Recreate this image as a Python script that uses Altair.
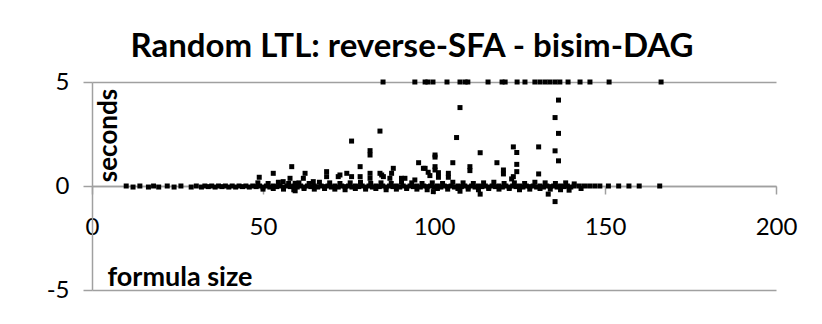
import altair as alt
import pandas as pd

# baseline runs (seconds close to 0)
base_size = [10, 12, 14, 16.5, 18, 19.5, 22, 24, 26, 29, 30.5, 32, 33, 34, 35, 36, 37, 38, 39, 40,
             41, 42, 43, 44, 45, 46, 47, 48, 49, 50, 51, 52, 53, 54, 55, 56, 57, 58, 59, 60,
             61, 62, 63, 64, 65, 66, 67, 68, 69, 70, 71, 72, 73, 74, 75, 76, 77, 78, 79, 80,
             81, 82, 83, 84, 85, 86, 87, 88, 89, 90, 91, 92, 93, 94, 95, 96, 97, 98, 99, 100,
             101, 102, 103, 104, 105, 106, 107, 108, 109, 110, 111, 112, 113, 114, 115, 116, 117, 118, 119, 120,
             121, 122, 123, 124, 125, 126, 127, 128, 129, 130, 131, 132, 133, 134, 135, 136, 137, 138, 139, 140,
             141, 142.5, 144, 145.5, 147, 148.5, 151, 154, 157, 160, 166]
base_sec = [0.0, -0.05, 0.0, -0.05, 0.0, -0.05, 0.0, -0.05, 0.0, -0.05, 0.0, -0.05, 0.0, -0.03, 0.0, -0.05, 0.0, -0.03, 0.0, -0.05,
            0.0, -0.05, 0.0, -0.03, 0.0, -0.05, 0.0, -0.03, 0.0, -0.05, 0.0, -0.05, 0.0, -0.03, 0.0, -0.05, 0.0, -0.03, 0.0, -0.05,
            0.0, -0.05, 0.0, -0.03, 0.0, -0.05, 0.0, -0.03, 0.0, -0.05, 0.0, -0.05, 0.0, -0.03, 0.0, -0.05, 0.0, -0.03, 0.0, -0.05,
            0.0, -0.05, 0.0, -0.03, 0.0, -0.05, 0.0, -0.03, 0.0, -0.05, 0.0, -0.05, 0.0, -0.03, 0.0, -0.05, 0.0, -0.03, 0.0, -0.05,
            0.0, -0.05, 0.0, -0.03, 0.0, -0.05, 0.0, -0.03, 0.0, -0.05, 0.0, -0.05, 0.0, -0.03, 0.0, -0.05, 0.0, -0.03, 0.0, -0.05,
            0.0, -0.05, 0.0, -0.03, 0.0, -0.05, 0.0, -0.03, 0.0, -0.05, 0.0, -0.05, 0.0, -0.03, 0.0, -0.05, 0.0, -0.03, 0.0, -0.05,
            0.0, 0.0, 0.0, 0.0, 0.0, 0.0, 0.0, 0.0, 0.0, 0.0, 0.0]

# thickening of the band (slightly above / below 0)
band_size = [48.5, 50, 51.5, 53, 54.5, 56, 57.5, 59, 60.5, 62, 63.5, 65, 66.5, 68, 69.5, 71, 72.5, 74, 75.5, 77,
             78.5, 80, 81.5, 83, 84.5, 86, 87.5, 89, 90.5, 92, 93.5, 95, 96.5, 98, 99.5, 101, 102.5, 104, 105.5, 107,
             108.5, 110, 111.5, 113, 114.5, 116, 117.5, 119, 120.5, 122, 123.5, 125, 126.5, 128, 129.5, 131, 132.5, 134, 135.5, 137,
             138.5, 139.5, 141, 143]
band_sec = [0.15, -0.15, 0.12, -0.12, 0.18, -0.15, 0.12, -0.18, 0.15, -0.12, 0.12, -0.15, 0.18, -0.12, 0.15, -0.15, 0.12, -0.18, 0.15, -0.12,
            0.18, -0.15, 0.12, -0.12, 0.15, -0.18, 0.12, -0.15, 0.18, -0.12, 0.15, -0.15, 0.12, -0.18, 0.15, -0.12, 0.12, -0.15, 0.18, -0.12,
            0.15, -0.15, 0.12, -0.18, 0.15, -0.12, 0.18, -0.15, 0.12, -0.12, 0.15, -0.18, 0.12, -0.15, 0.18, -0.12, 0.15, -0.15, 0.12, -0.18,
            0.15, -0.2, 0.1, -0.12]

# scattered slower cases
scat_size = [48.9, 53.0, 55.9, 57.9, 58.4, 59.4, 59.4, 61.8, 62.3, 64.7, 68.6, 68.6, 72.0, 72.5, 74.5, 75.9, 75.9, 78.4, 78.4,
             81.3, 81.3, 81.3, 81.3, 84.2, 84.2, 84.7, 85.2, 87.1, 87.6, 88.1, 90.5, 91.5, 94.4, 95.5, 96.9, 97.4, 98.3,
             98.8, 99.8, 100.3, 100.3, 100.3, 100.3, 101.3, 101.3, 104.2, 104.2, 105.5, 106.6, 107.6, 107.6, 110.5, 110.5,
             113.5, 113.5, 118.4, 120.3, 120.3, 122.7, 123.2, 123.2, 124.2, 124.2, 124.2, 130.6, 130.6, 133.4, 135.4, 135.4,
             135.4, 136.4, 136.4, 136.4]
scat_sec = [0.42, 0.61, 0.21, 0.37, 0.93, 0.13, -0.23, 0.37, 0.61, 0.21, 0.69, 0.45, 0.45, 0.53, 0.61, 2.16, 0.45, 0.93, 0.45,
            1.70, 1.49, 0.61, 0.37, 2.64, 0.61, 0.53, 0.45, 0.37, 0.61, 0.85, 0.37, 0.37, 0.29, 1.12, 0.85, 0.85, 0.66,
            0.50, -0.27, 1.49, 1.39, 0.93, 0.77, 0.64, 0.42, 0.61, 0.42, 1.12, 2.33, 3.77, -0.25, 0.93, 0.74,
            1.60, -0.39, 1.12, 0.77, 0.58, 0.34, 1.88, 0.45, 1.61, 1.04, 0.69, 1.88, 0.58, -0.39, 3.29, 1.69,
            -0.75, 4.13, 2.53, 1.21]

# timeouts (capped at 5 s)
to_size = [85.1, 94.4, 97.4, 98.2, 99.7, 103.8, 107.6, 109.1, 109.9, 115.8, 119.9, 120.8, 124.3, 126.6, 129.5,
           131.0, 132.5, 133.9, 135.4, 136.8, 139.2, 142.7, 145.6, 151.2, 166.4]
to_sec = [5] * len(to_size)

df = pd.DataFrame({
    "size": base_size + band_size + scat_size + to_size,
    "sec": base_sec + band_sec + scat_sec + to_sec,
})

GRAY = "#a0a0a0"
FONT = "Lato"

chart = alt.Chart(df).mark_square(size=25, color="black", opacity=1, clip=False).encode(
    x=alt.X("size:Q",
            scale=alt.Scale(domain=[0, 200], nice=False, zero=False),
            axis=alt.Axis(values=[0, 50, 100, 150, 200], grid=False, offset=-104,
                          domainColor=GRAY, domainWidth=1.5, tickColor=GRAY, tickWidth=1.5,
                          tickSize=8, labelFontSize=24, labelFont=FONT, labelColor="black",
                          labelPadding=21, labelFlush=False,
                          title="formula size", titleFont=FONT, titleFontSize=27,
                          titleFontWeight="bold", titleColor="black",
                          titleX=15, titleY=99, titleAlign="left", titleBaseline="alphabetic")),
    y=alt.Y("sec:Q",
            scale=alt.Scale(domain=[-5, 5], nice=False, zero=False),
            axis=alt.Axis(values=[-5, 0, 5], grid=True, gridColor=GRAY, gridWidth=1.5,
                          domainColor=GRAY, domainWidth=1.5, tickColor=GRAY, tickWidth=1.5,
                          tickSize=9, labelFontSize=24, labelFont=FONT, labelColor="black",
                          labelPadding=14, labelExpr="'' + datum.value",
                          title="seconds", titleFont=FONT, titleFontSize=26,
                          titleFontWeight="bold", titleColor="black", titleAngle=-90,
                          titleX=24, titleY=53, titleAlign="center", titleBaseline="alphabetic")),
).properties(
    width=684, height=208,
    title=alt.TitleParams("Random LTL: reverse-SFA - bisim-DAG", font=FONT, fontSize=33,
                          fontWeight="bold", color="black", anchor="middle", dx=-22, dy=46,
                          offset=26, baseline="alphabetic", frame="group"),
    autosize="none",
    padding={"left": 84, "top": 74, "right": 30, "bottom": 20},
).configure_view(stroke=None)

chart.save("out.html", embed_options={"renderer": "svg", "actions": False})
